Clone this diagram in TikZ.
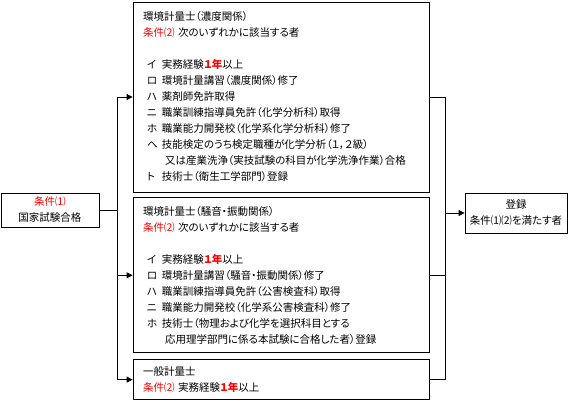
\documentclass[tikz,border=0pt]{standalone}
\usepackage{fontspec}
\setmainfont{Noto Sans CJK JP}[RawFeature=+palt]
\usetikzlibrary{positioning,arrows.meta}
\definecolor{jred}{RGB}{255,0,0}
\newcommand{\joken}[1]{\textcolor{jred}{条件#1}}
\newcommand{\ichinen}{\textcolor{jred}{\textbf{１年}}}
\newcommand{\koumoku}[2]{\leavevmode\hbox{\kern4pt\hbox to 15pt{#1\hfil}#2}}
\newcommand{\tsuzuki}[1]{\leavevmode\hbox{\kern22pt #1}}

\begin{document}
\begin{tikzpicture}[x=1pt, y=-1pt, line width=0.8pt,
    box/.style={draw, inner sep=0pt, font=\fontsize{10.5}{16}\selectfont},
    jbox/.style={box, text width=276pt, inner xsep=10pt, minimum width=296pt, align=left},
    arr/.style={-{Triangle[length=6pt, width=6pt]}}]
  \useasboundingbox (0,0) rectangle (574,400);

  % Define boxes
  \node [box, minimum width=98pt, minimum height=34pt, align=center] (cond_1) at (50,210)
    {\joken{⑴}\\国家試験合格};

  \node [jbox, minimum height=190pt] (noudo) at (281,97) {
    環境計量士（濃度関係）\\
    \joken{⑵} 次のいずれかに該当する者\\[16pt]
    \koumoku{イ}{実務経験\ichinen 以上}\\
    \koumoku{ロ}{環境計量講習（濃度関係）修了}\\
    \koumoku{ハ}{薬剤師免許取得}\\
    \koumoku{ニ}{職業訓練指導員免許（化学分析科）取得}\\
    \koumoku{ホ}{職業能力開発校（化学系化学分析科）修了}\\
    \koumoku{ヘ}{技能検定のうち検定職種が化学分析（１，２級）}\\
    \tsuzuki{又は産業洗浄（実技試験の科目が化学洗浄作業）合格}\\
    \koumoku{ト}{技術士（衛生工学部門）登録}};

  \node [jbox, minimum height=155pt, below=5pt of noudo] (souon) {
    環境計量士（騒音・振動関係）\\
    \joken{⑵} 次のいずれかに該当する者\\[16pt]
    \koumoku{イ}{実務経験\ichinen 以上}\\
    \koumoku{ロ}{環境計量講習（騒音・振動関係）修了}\\
    \koumoku{ハ}{職業訓練指導員免許（公害検査科）取得}\\
    \koumoku{ニ}{職業能力開発校（化学系公害検査科）修了}\\
    \koumoku{ホ}{技術士（物理および化学を選択科目とする}\\
    \tsuzuki{応用理学部門に係る本試験に合格した者）登録}};

  \node [jbox, minimum height=40pt, below=6pt of souon] (ippan) {
    一般計量士\\
    \joken{⑵} 実務経験\ichinen 以上};

  \node [box, minimum width=102pt, minimum height=40pt, align=center] (touroku) at (516,213)
    {登録\\条件⑴⑵を満たす者};

  \coordinate [right=18pt of cond_1.east] (split);
  \coordinate [left=19pt of touroku.west] (merge);

  % Draw edges
  \draw (cond_1) -- (split);
  \draw (split |- noudo.west) -- (split |- ippan.west);
  \draw [arr] (split |- noudo.west) -- (noudo);
  \draw [arr] (split |- souon.west) -- (souon);
  \draw [arr] (split |- ippan.west) -- (ippan);

  \draw (noudo.east) -- (noudo.east -| merge) -- (ippan.east -| merge) -- (ippan.east);
  \draw (souon.east) -- (souon.east -| merge);
  \draw [arr] (merge) -- (touroku);
\end{tikzpicture}
\end{document}
